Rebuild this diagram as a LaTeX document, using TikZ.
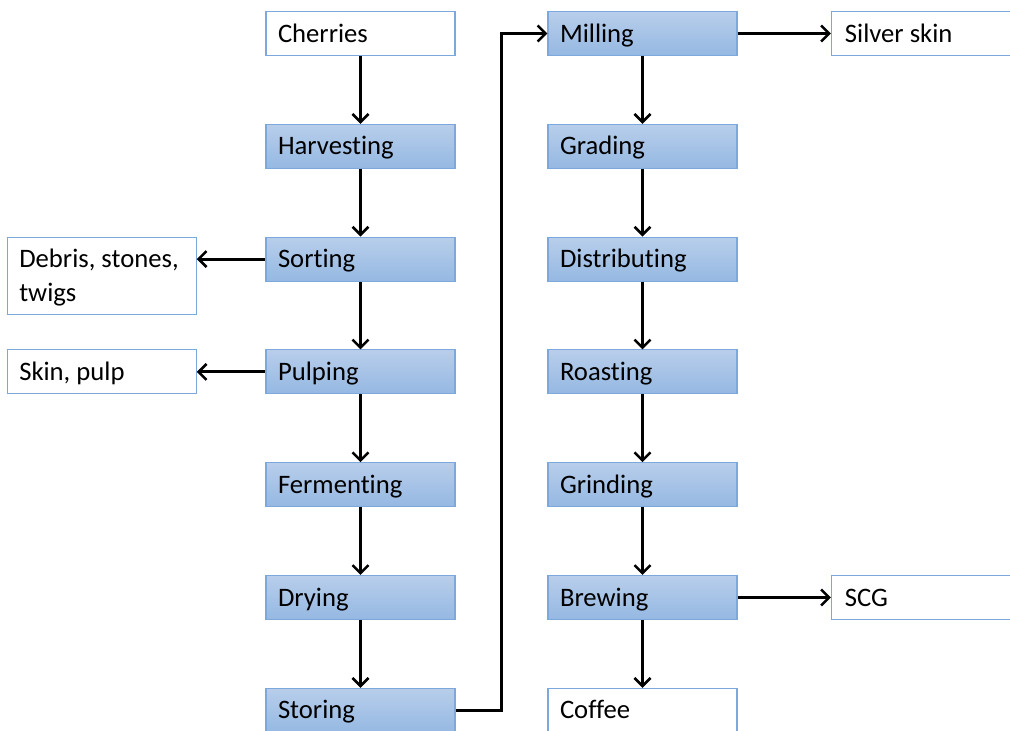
\documentclass[tikz,border=0pt]{standalone}
\usepackage{fontspec}
\setmainfont{Carlito}[RawFeature=-liga]
\usetikzlibrary{arrows.meta, positioning}

\definecolor{boxline}{RGB}{125,168,220}
\definecolor{boxtop}{RGB}{184,206,235}
\definecolor{boxbottom}{RGB}{149,184,226}

\begin{document}
\begin{tikzpicture}[
            x = 0.75pt, y = -0.75pt, % one unit is one pixel
            > = {Straight Barb[length=6pt, width=12pt, line width=1.9pt]}, % arrow head style
            node distance = 84.6pt, % distance between rows
            line width = 2.2pt, % line style
            font = \fontsize{20}{25.5}\selectfont
        ]

        \tikzstyle{every node}=[
            draw = boxline,
            line width = 0.8pt,
            minimum width = 141.75pt,
            minimum height = 33pt,
            text width = 123.75pt,
            text height = 16pt,
            text depth = 3.2pt,
            inner xsep = 9pt,
            align = flush left
        ]
        \tikzstyle{step box}=[
            top color = boxtop,
            bottom color = boxbottom
        ]
        \tikzstyle{end box}=[
            fill = white
        ]

        \useasboundingbox (0,0) rectangle (1010,731);

        % left column
        \node[end box] (cherries) at (360.5,33.5) {Cherries};
        \node[step box] (harvesting) [below of=cherries] {Harvesting};
        \node[step box] (sorting) [below of=harvesting] {Sorting};
        \node[step box] (pulping) [below of=sorting] {Pulping};
        \node[step box] (fermenting) [below of=pulping] {Fermenting};
        \node[step box] (drying) [below of=fermenting] {Drying};
        \node[step box] (storing) [below of=drying] {Storing};

        % right column
        \node[step box] (milling) at (642.5,33.5) {Milling};
        \node[step box] (grading) [below of=milling] {Grading};
        \node[step box] (distributing) [below of=grading] {Distributing};
        \node[step box] (roasting) [below of=distributing] {Roasting};
        \node[step box] (grinding) [below of=roasting] {Grinding};
        \node[step box] (brewing) [below of=grinding] {Brewing};
        \node[end box] (coffee) [below of=brewing] {Coffee};

        % by-products
        \node[end box, anchor=north east, minimum height=57.75pt, text depth=28.7pt] (debris)
            at ([xshift=-51.5pt]sorting.north west) {Debris, stones,\\twigs};
        \node[end box] (skin) [left=51.5pt of pulping] {Skin, pulp};
        \node[end box, minimum width=144pt] (silver) [right=70pt of milling] {Silver skin};
        \node[end box, minimum width=144pt] (scg) [right=70pt of brewing] {SCG};

        \foreach \a/\b in {cherries/harvesting, harvesting/sorting, sorting/pulping,
                pulping/fermenting, fermenting/drying, drying/storing,
                milling/grading, grading/distributing, distributing/roasting,
                roasting/grinding, grinding/brewing, brewing/coffee}
            \draw[->] (\a) -- (\b);

        \draw[->] (sorting.west) -- (sorting.west -| debris.east);
        \draw[->] (pulping) -- (skin);
        \draw[->] (milling) -- (silver);
        \draw[->] (brewing) -- (scg);
        \coordinate (bend) at (501.5,33.5);
        \draw[->] (storing.east) -| (bend) -- (milling.west);

  \end{tikzpicture}
\end{document}
